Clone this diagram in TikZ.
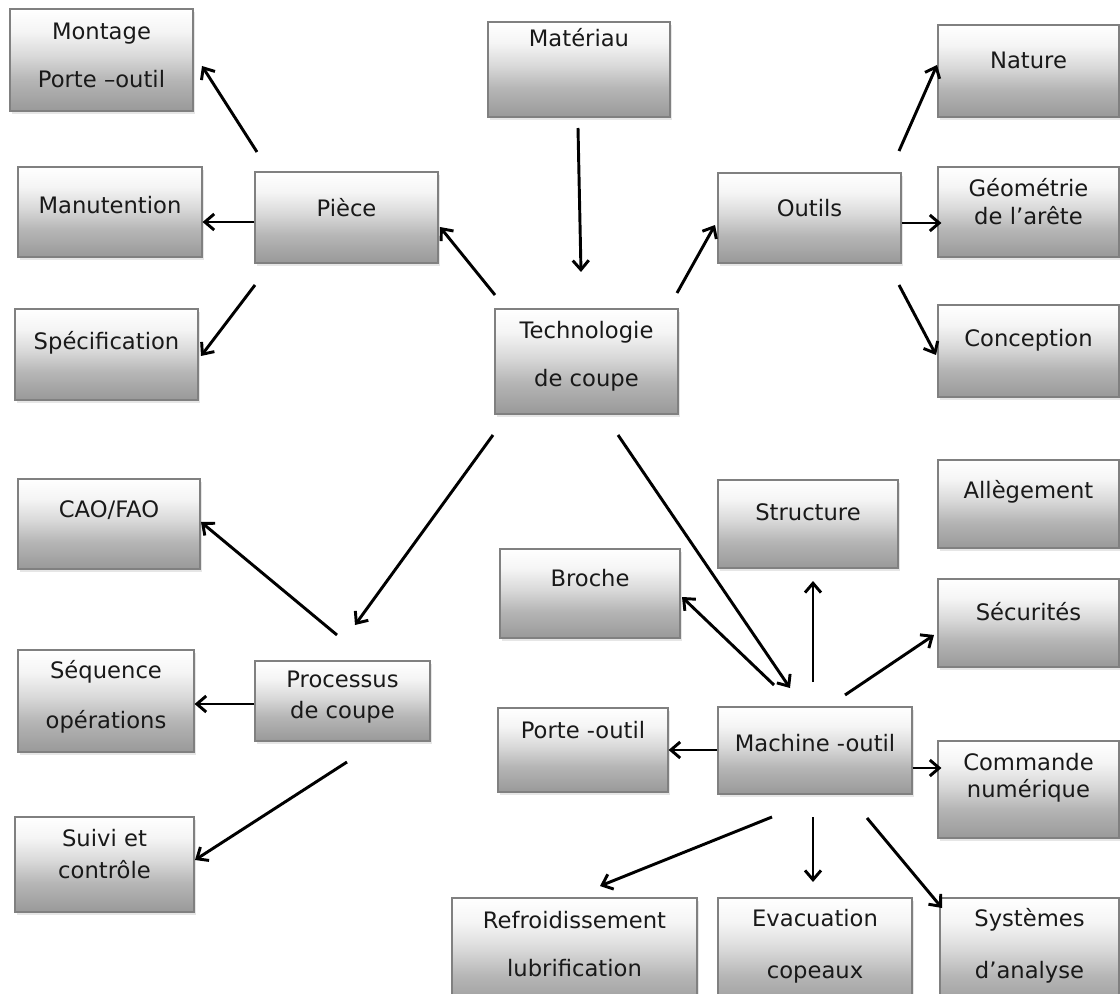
\documentclass[tikz,border=0pt]{standalone}
\usepackage{fontspec}
\setmainfont{DejaVu Sans}
\usetikzlibrary{arrows.meta,shadows}
\pgfdeclareverticalshading{degrade}{100bp}{color(0bp)=(black!40); color(25bp)=(black!40); color(40bp)=(black!29); color(52bp)=(black!15); color(64bp)=(black!4); color(75bp)=(white); color(100bp)=(white)}
\tikzset{
  boite/.style={draw=black!50, line width=0.9pt, shading=degrade, inner sep=0pt,
    drop shadow={opacity=0.2, shadow xshift=1.5pt, shadow yshift=-2pt}},
  txt/.style={font=\fontsize{17}{20}\selectfont, align=center, inner sep=0pt, text=black!90},
  fleche/.style={line width=2.2pt, -{Straight Barb[length=7pt, width=12pt]}},
}
\begin{document}
\begin{tikzpicture}[x=0.75pt, y=-0.75pt]
  \useasboundingbox (0,0) rectangle (1120,994);
  \clip (0,0) rectangle (1120,994);
  % boites : nom/gauche/haut/droite/bas (en pixels)
  \foreach \n/\l/\t/\r/\b in {montage/10/9/193/111, materiau/488/22/670/117, nature/938/25/1119/117,
    manutention/18/167/202/257, piece/255/172/438/263, outils/718/173/901/263, geometrie/938/167/1119/257,
    specification/15/309/198/400, techno/495/309/678/414, conception/938/305/1119/397,
    cao/18/479/200/569, structure/718/480/898/568, allegement/938/460/1119/548,
    broche/500/549/680/638, securites/938/579/1119/667,
    sequence/18/650/194/752, processus/255/661/430/741,
    porteoutil/498/708/668/792, machine/718/707/912/794, commande/938/741/1119/838,
    suivi/15/817/194/912, refroid/452/898/697/1010, evac/718/898/912/1010, systemes/940/898/1119/1010}
    \node[boite, minimum width={(\r-\l)*0.75pt}, minimum height={(\b-\t)*0.75pt}] (\n) at ({(\l+\r)/2},{(\t+\b)/2}) {};

  % textes
  \node[txt] (montage-t) at (montage.center |- 0,55) {Montage\\[16pt]Porte –outil};
  \node[txt] (materiau-t) at (materiau.center |- 0,38) {Matériau};
  \node[txt] (nature-t) at (nature.center |- 0,60) {Nature};
  \node[txt] (manutention-t) at (manutention.center |- 0,205) {Manutention};
  \node[txt] (piece-t) at (piece.center |- 0,208) {Pièce};
  \node[txt] (outils-t) at (outils.center |- 0,208) {Outils};
  \node[txt] (geometrie-t) at (geometrie.center |- 0,202) {Géométrie\\[1pt]de l'arête};
  \node[txt] (specification-t) at (specification.center |- 0,343) {Spécification};
  \node[txt] (techno-t) at (techno.center |- 0,356) {Technologie\\[16pt]de coupe};
  \node[txt] (conception-t) at (conception.center |- 0,340) {Conception};
  \node[txt] (cao-t) at (cao.center |- 0,510) {CAO/FAO};
  \node[txt] (structure-t) at (structure.center |- 0,512) {Structure};
  \node[txt] (allegement-t) at (allegement.center |- 0,492) {Allègement};
  \node[txt] (broche-t) at (broche.center |- 0,578) {Broche};
  \node[txt] (securites-t) at (securites.center |- 0,612) {Sécurités};
  \node[txt] (sequence-t) at (sequence.center |- 0,697) {Séquence\\[17.5pt]opérations};
  \node[txt] (processus-t) at (processus.center |- 0,697) {Processus\\[3pt]de coupe};
  \node[txt] (porteoutil-t) at (porteoutil.center |- 0,730) {Porte -outil};
  \node[txt] (machine-t) at (machine.center |- 0,743) {Machine -outil};
  \node[txt] (commande-t) at (commande.center |- 0,778) {Commande\\numérique};
  \node[txt] (suivi-t) at (suivi.center |- 0,854) {Suivi et\\[4pt]contrôle};
  \node[txt] (refroid-t) at (refroid.center |- 0,944) {Refroidissement\\[16pt]lubrification};
  \node[txt] (evac-t) at (evac.center |- 0,946) {Evacuation\\[19pt]copeaux};
  \node[txt] (systemes-t) at (systemes.center |- 0,946) {Systèmes\\[19pt]d'analyse};

  % bouts des fleches
  \foreach \n/\x/\y in {pi-mo/257/152, mo-pi/202/66, pi-sp/255/285, sp-pi/201/356,
    te-pi/495/295, pi-te/440/227, mt-te/578/128, te-mt/581/272, te-ou/677/293, ou-te/715/225,
    ou-na/899/151, na-ou/937/65, ou-co/899/285, co-ou/936/355,
    te-pr/493/435, pr-te/355/625, pr-ca/337/635, ca-pr/201/522, pr-su/347/762, su-pr/195/860,
    te-mc/618/435, mc-te/790/688, mc-br/774/685, br-mc/682/597, mc-st/813/682, st-mc/813/581,
    mc-sc/845/695, sc-mc/934/635, mc-re/772/817, re-mc/600/886, mc-ev/813/817, ev-mc/813/882,
    mc-sy/867/818, sy-mc/942/908}
    \coordinate (\n) at (\x,\y);

  \foreach \a/\b in {pi-mo/mo-pi, pi-sp/sp-pi, te-pi/pi-te, mt-te/te-mt, te-ou/ou-te,
    ou-na/na-ou, ou-co/co-ou, te-pr/pr-te, pr-ca/ca-pr, pr-su/su-pr, te-mc/mc-te,
    mc-br/br-mc, mc-st/st-mc, mc-sc/sc-mc, mc-re/re-mc, mc-ev/ev-mc, mc-sy/sy-mc}
    \draw[fleche] (\a) -- (\b);

  % fleches horizontales
  \draw[fleche] (piece.west |- 0,222) -- (manutention.east |- 0,222);
  \draw[fleche] (outils.east |- 0,223) -- ([xshift=3pt]geometrie.west |- 0,223);
  \draw[fleche] (processus.west |- 0,704) -- (sequence.east |- 0,704);
  \draw[fleche] (machine.west |- 0,750) -- (porteoutil.east |- 0,750);
  \draw[fleche] (machine.east |- 0,768) -- ([xshift=3pt]commande.west |- 0,768);
\end{tikzpicture}
\end{document}
